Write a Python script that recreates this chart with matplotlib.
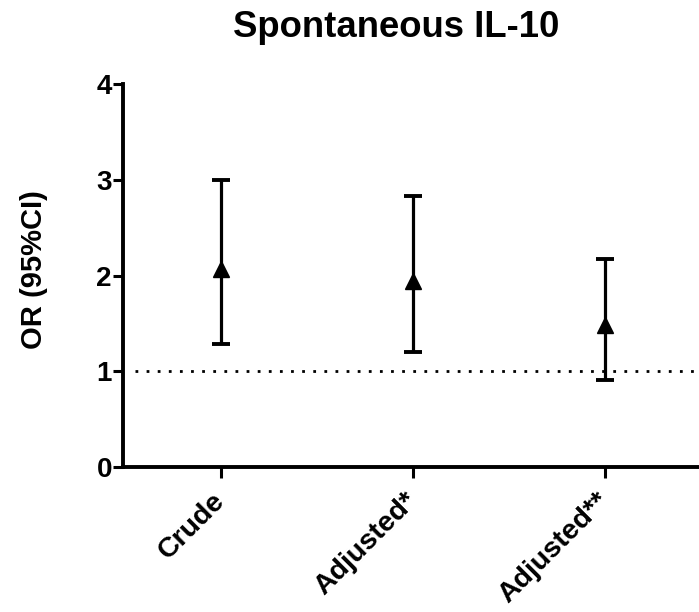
import matplotlib
matplotlib.use("Agg")
import matplotlib.pyplot as plt
from matplotlib.transforms import ScaledTranslation

categories = ["Crude", "Adjusted*", "Adjusted**"]
or_values = [2.07, 1.94, 1.48]
ci_lower = [1.28, 1.20, 0.91]
ci_upper = [3.00, 2.83, 2.17]
yticks = [0, 1, 2, 3, 4]

plt.rcParams['font.family'] = ['Liberation Sans', 'DejaVu Sans']
plt.rcParams['font.weight'] = 'bold'

fig = plt.figure(figsize=(6.99, 6.12), dpi=100)
ax = fig.add_axes([123/699, 1-467/612, (699-123)/699, (467-84)/612])

x = list(range(len(categories)))
yerr = [[v - l for v, l in zip(or_values, ci_lower)],
        [u - v for v, u in zip(or_values, ci_upper)]]
ax.errorbar(x, or_values, yerr=yerr, fmt='^', color='black', ecolor='black',
            elinewidth=2.3, capsize=6.5, capthick=2.8, markersize=11, zorder=3)

ax.axhline(1, xmin=12/576, xmax=1, color='black', linestyle=(0, (1, 3)),
           linewidth=2, zorder=1)

ax.set_xlim(-0.51, 2.49)
ax.set_ylim(0, 4)
ax.set_yticks(yticks)
ax.set_yticklabels([str(t) for t in yticks], fontsize=20, fontweight='bold')
ax.set_xticks(x)
ax.set_xticklabels([])

offset = ScaledTranslation(-9/100, -21/100, fig.dpi_scale_trans)
for xi, c in zip(x, categories):
    ax.text(xi, 0, c, transform=ax.get_xaxis_transform() + offset,
            rotation=45, ha='right', va='top', rotation_mode='anchor',
            fontsize=20.5, fontweight='bold', clip_on=False)

for s in ['top', 'right']:
    ax.spines[s].set_visible(False)
for s in ['left', 'bottom']:
    ax.spines[s].set_linewidth(2.8)
ax.tick_params(axis='y', width=2.2, length=7, direction='out', pad=1)
ax.tick_params(axis='x', width=2.2, length=8, direction='out')

fig.text(34/699, 1-270/612, "OR (95%CI)", rotation=90, ha='center', va='center',
         fontsize=21, fontweight='bold')
fig.text(396/699, 1-37/612, "Spontaneous IL-10", ha='center', va='baseline',
         fontsize=26.3, fontweight='bold')

fig.savefig("out.png", dpi=100)
